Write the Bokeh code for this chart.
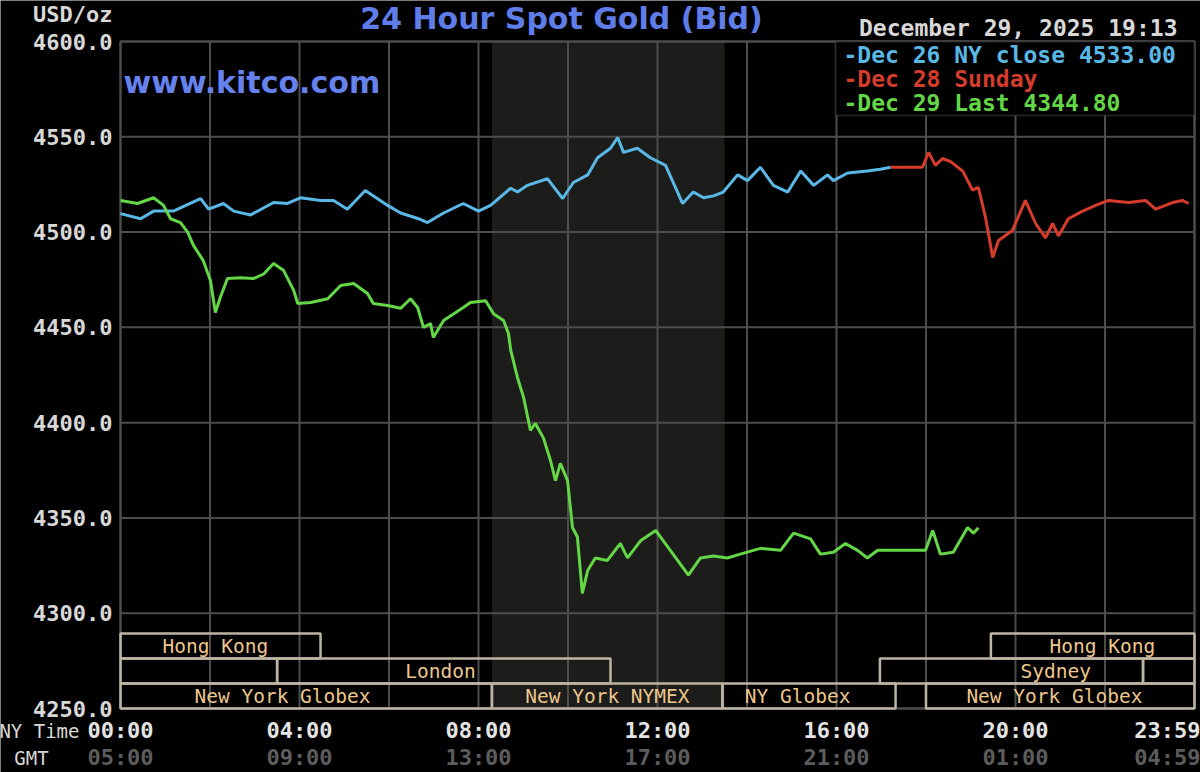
from bokeh.plotting import figure
from bokeh.models import Range1d, Label, BoxAnnotation, ColumnDataSource
from bokeh.core.properties import value
from bokeh.embed import file_html
from bokeh.resources import INLINE

# ---------------- data (hours in NY time, price in USD/oz) ----------------
dec26_hours = [0.00, 0.45, 0.74, 1.18, 1.79, 1.97, 2.30, 2.53, 2.91, 3.42, 3.73, 4.02, 4.47, 4.76,
               5.07, 5.47, 5.97, 6.26, 6.66, 6.86, 7.22, 7.66, 8.00, 8.27, 8.72, 8.87, 9.09, 9.54,
               9.88, 10.12, 10.44, 10.66, 10.95, 11.11, 11.24, 11.55, 11.84, 12.18, 12.36, 12.56,
               12.80, 13.03, 13.25, 13.47, 13.79, 14.01, 14.30, 14.59, 14.91, 15.20, 15.49, 15.80,
               15.93, 16.25, 16.69, 16.98, 17.21]
dec26_price = [4509.7, 4507.0, 4511.0, 4511.0, 4517.6, 4512.0, 4515.0, 4511.0, 4509.0, 4515.5, 4515.0,
               4518.0, 4516.6, 4516.6, 4512.0, 4521.8, 4514.0, 4510.0, 4507.0, 4505.0, 4510.0, 4515.0,
               4511.0, 4514.0, 4523.0, 4521.0, 4524.5, 4528.0, 4517.6, 4526.0, 4530.0, 4539.0, 4544.0,
               4549.6, 4541.8, 4544.0, 4539.0, 4535.0, 4525.5, 4515.0, 4521.0, 4518.0, 4519.0, 4521.0,
               4530.0, 4527.0, 4534.0, 4524.5, 4521.0, 4532.0, 4524.5, 4530.0, 4527.0, 4531.0, 4532.0,
               4533.0, 4534.0]

dec28_hours = [17.21, 17.92, 18.06, 18.21, 18.37, 18.55, 18.82, 19.04, 19.17, 19.33, 19.49, 19.62,
               19.93, 20.22, 20.45, 20.67, 20.83, 20.96, 21.18, 21.50, 21.79, 22.08, 22.53, 22.91,
               23.13, 23.51, 23.73, 23.87]
dec28_price = [4534.0, 4534.0, 4541.8, 4535.0, 4538.6, 4537.0, 4532.0, 4522.0, 4523.4, 4507.7, 4486.7,
               4495.6, 4500.8, 4516.6, 4504.5, 4497.0, 4504.5, 4498.0, 4507.0, 4511.0, 4514.0, 4516.6,
               4515.5, 4516.6, 4512.0, 4515.5, 4516.6, 4515.0]

dec29_hours = [0.00, 0.38, 0.74, 0.96, 1.12, 1.34, 1.50, 1.63, 1.85, 2.01, 2.12, 2.23, 2.39, 2.68,
               2.97, 3.20, 3.42, 3.64, 3.87, 3.96, 4.25, 4.63, 4.92, 5.21, 5.52, 5.65, 5.97, 6.26,
               6.48, 6.64, 6.77, 6.93, 6.99, 7.22, 7.66, 7.82, 8.16, 8.34, 8.56, 8.67, 8.72, 8.87,
               9.01, 9.16, 9.27, 9.45, 9.61, 9.72, 9.83, 9.99, 10.10, 10.21, 10.32, 10.44, 10.61,
               10.88, 11.17, 11.33, 11.62, 11.96, 12.13, 12.45, 12.69, 12.96, 13.25, 13.56, 13.85,
               14.30, 14.75, 15.04, 15.42, 15.64, 15.93, 16.20, 16.47, 16.69, 16.92, 17.99, 18.15,
               18.32, 18.61, 18.93, 19.06, 19.17]
dec29_price = [4516.6, 4515.0, 4518.0, 4514.0, 4507.0, 4505.0, 4500.0, 4493.0, 4485.0, 4474.6, 4457.8,
               4465.7, 4475.6, 4476.0, 4475.6, 4478.0, 4483.5, 4480.0, 4469.4, 4462.5, 4463.0, 4465.0,
               4472.0, 4473.0, 4467.8, 4462.5, 4461.5, 4460.0, 4465.0, 4460.4, 4450.0, 4452.0, 4444.7,
               4453.6, 4460.4, 4463.0, 4464.0, 4457.0, 4453.6, 4446.8, 4438.0, 4423.7, 4413.0, 4396.0,
               4399.6, 4392.0, 4380.0, 4369.6, 4378.6, 4369.6, 4345.0, 4340.0, 4310.4, 4322.4, 4329.0,
               4327.7, 4336.6, 4329.0, 4338.0, 4343.4, 4338.0, 4327.7, 4320.0, 4329.0, 4330.0, 4329.0,
               4331.0, 4334.0, 4333.0, 4342.0, 4339.0, 4331.0, 4332.0, 4336.6, 4333.0, 4329.0, 4333.0,
               4333.0, 4343.4, 4331.0, 4332.0, 4345.0, 4342.0, 4344.8]

legend_texts = ["-Dec 26 NY close 4533.00", "-Dec 28 Sunday", "-Dec 29 Last 4344.80"]

y_ticks = [4250, 4300, 4350, 4400, 4450, 4500, 4550, 4600]
time_tick_hours = [0, 4, 8, 12, 16, 20, 23.98]
ny_time_labels = ["00:00", "04:00", "08:00", "12:00", "16:00", "20:00", "23:59"]
gmt_labels = ["05:00", "09:00", "13:00", "17:00", "21:00", "01:00", "04:59"]
grid_hours = [0, 2, 4, 6, 8, 10, 12, 14, 16, 18, 20, 22, 24]

session_names = ["Hong Kong", "Hong Kong", "", "London", "Sydney", "",
                 "New York Globex", "New York NYMEX", "NY Globex", "New York Globex"]
session_row = [3, 3, 2, 2, 2, 2, 1, 1, 1, 1]
session_start = [0.0, 19.45, 0.0, 3.5, 16.97, 22.85, 0.0, 8.3, 13.45, 18.0]
session_end = [4.47, 24.0, 3.5, 10.95, 22.85, 24.0, 8.3, 13.45, 17.32, 24.0]
session_label_hour = [2.12, 21.94, 1.75, 7.15, 20.9, 23.4, 3.62, 10.88, 15.13, 20.87]

# ---------------- layout constants (pixels of the 1200x772 page) ----------------
W, H = 1200, 772
FL, FR, FT, FB = 120, 1194, 41, 708      # chart area
X0, X1 = 0, 24
Y0, Y1 = 4250, 4600
ROW_PX = 25


def hx(px):
    return X0 + (px - FL) / (FR - FL) * (X1 - X0)


def py(pv):
    return Y1 - (pv - FT) / (FB - FT) * (Y1 - Y0)


def rowy(pv):
    return (FB - pv) / ROW_PX


MONO = "DejaVu Sans Mono"
BG = "#000000"
GRID = "#4d4d4d"
BLUE = "#5ab8e6"
RED = "#d63c2c"
GREEN = "#63d746"
TXT = "#d8d8d8"
SESS_LINE = "#bdb5a3"
SESS_TXT = "#ecc68c"

# the frame covers the whole page; the chart area is placed by the ranges
p = figure(width=W, height=H, output_backend="svg", toolbar_location=None, title=None,
           x_range=Range1d(hx(0), hx(W)), y_range=Range1d(py(H), py(0)),
           min_border=0, background_fill_color=BG, border_fill_color=BG,
           outline_line_color=None)
p.extra_y_ranges = {"rows": Range1d(rowy(H), rowy(0))}
p.axis.visible = False
p.grid.visible = False

# NYMEX shading (from NYMEX session hours)
nymex = session_names.index("New York NYMEX")
p.quad(left=[session_start[nymex]], right=[session_end[nymex] + 0.05], bottom=[Y0], top=[Y1],
       fill_color="#1c1c1a", line_color=None, level="image")

# grid
p.segment(x0=grid_hours, x1=grid_hours, y0=[Y0] * len(grid_hours), y1=[Y1] * len(grid_hours),
          line_color=GRID, line_width=2, level="underlay")
p.segment(x0=[X0] * len(y_ticks), x1=[X1] * len(y_ticks), y0=y_ticks, y1=y_ticks,
          line_color=GRID, line_width=2, level="underlay")

# y tick labels
p.text(x=[hx(112)] * len(y_ticks), y=y_ticks, text=["%.1f" % v for v in y_ticks],
       text_align="right", text_baseline="middle", text_color=TXT,
       text_font=value(MONO), text_font_style="bold", text_font_size="22px")

# x tick labels (NY time and GMT)
n = len(time_tick_hours) - 1
p.text(x=time_tick_hours[:n], y=[py(730)] * n, text=ny_time_labels[:n],
       text_align="center", text_baseline="middle", text_color="#e4e4e4",
       text_font=value(MONO), text_font_style="bold", text_font_size="22px")
p.text(x=time_tick_hours[:n], y=[py(757)] * n, text=gmt_labels[:n],
       text_align="center", text_baseline="middle", text_color="#5c5c5c",
       text_font=value(MONO), text_font_style="bold", text_font_size="22px")
p.text(x=[hx(1200)], y=[py(730)], text=ny_time_labels[n:],
       text_align="right", text_baseline="middle", text_color="#e4e4e4",
       text_font=value(MONO), text_font_style="bold", text_font_size="22px")
p.text(x=[hx(1200)], y=[py(757)], text=gmt_labels[n:],
       text_align="right", text_baseline="middle", text_color="#5c5c5c",
       text_font=value(MONO), text_font_style="bold", text_font_size="22px")

# session boxes
sess = ColumnDataSource(dict(
    left=session_start, right=session_end,
    top=session_row, bottom=[r - 1 for r in session_row],
    mid=[r - 0.5 for r in session_row], lx=session_label_hour, name=session_names))
p.quad(left="left", right="right", top="top", bottom="bottom", source=sess, y_range_name="rows",
       fill_color=None, line_color=SESS_LINE, line_width=2.5)
p.text(x="lx", y="mid", text="name", source=sess, y_range_name="rows",
       text_align="center", text_baseline="middle", text_color=SESS_TXT,
       text_font=value(MONO), text_font_size="19.5px")

# price lines
p.line(dec26_hours, dec26_price, line_color=BLUE, line_width=3)
p.line(dec28_hours, dec28_price, line_color=RED, line_width=3)
p.line(dec29_hours, dec29_price, line_color=GREEN, line_width=3)

# chart outline
p.quad(left=[X0], right=[X1], bottom=[Y0], top=[Y1], fill_color=None,
       line_color=GRID, line_width=2, level="underlay")

# legend box
p.add_layout(BoxAnnotation(left=hx(835), right=X1, top=Y1, bottom=py(115),
                           fill_color=BG, fill_alpha=1.0, line_color="#6a6a6a", line_width=2))
for txt, col, ypx in zip(legend_texts, [BLUE, RED, GREEN], [54, 78, 102]):
    p.add_layout(Label(x=hx(843), y=py(ypx), text=txt, text_color=col, text_font=MONO,
                       text_font_style="bold", text_font_size="23px",
                       text_align="left", text_baseline="middle"))

# titles and texts
p.add_layout(Label(x=hx(561), y=py(18), text="24 Hour Spot Gold (Bid)", text_color="#5f7de8",
                   text_font="DejaVu Sans", text_font_style="bold", text_font_size="30px",
                   text_align="center", text_baseline="middle"))
p.add_layout(Label(x=hx(123), y=py(82), text="www.kitco.com", text_color="#6582ee",
                   text_font="DejaVu Sans", text_font_style="bold", text_font_size="30px",
                   text_align="left", text_baseline="middle"))
p.add_layout(Label(x=hx(1177), y=py(27), text="December 29, 2025 19:13", text_color=TXT,
                   text_font=MONO, text_font_style="bold", text_font_size="23px",
                   text_align="right", text_baseline="middle"))
p.add_layout(Label(x=hx(112), y=py(14), text="USD/oz", text_color=TXT,
                   text_font=MONO, text_font_style="bold", text_font_size="22px",
                   text_align="right", text_baseline="middle"))
p.add_layout(Label(x=hx(79), y=py(730), text="NY Time", text_color=TXT,
                   text_font=MONO, text_font_size="19px",
                   text_align="right", text_baseline="middle"))
p.add_layout(Label(x=hx(31), y=py(757), text="GMT", text_color=TXT,
                   text_font=MONO, text_font_size="19px",
                   text_align="center", text_baseline="middle"))

open("out.html", "w").write(file_html(p, INLINE))
